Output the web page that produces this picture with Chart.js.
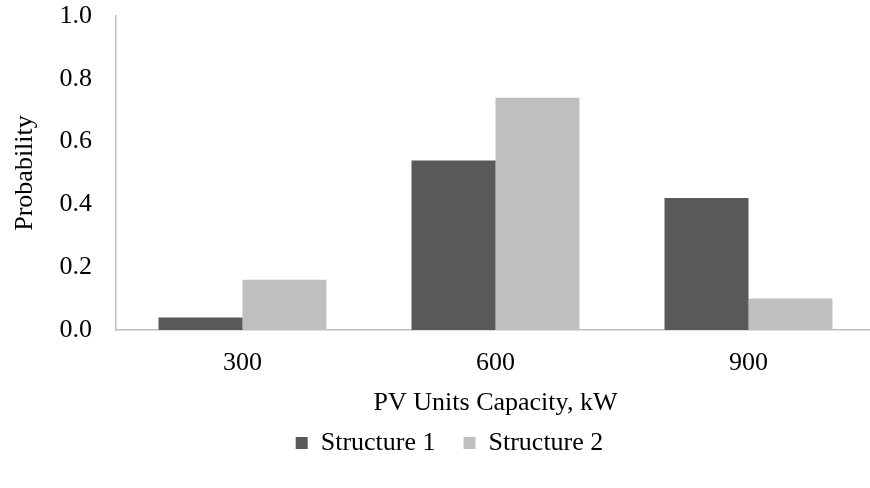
<!DOCTYPE html>
<html>
<head>
<meta charset="utf-8">
<script src="https://cdn.jsdelivr.net/npm/chart.js@4/dist/chart.umd.min.js"></script>
<style>
  html, body { margin: 0; padding: 0; background: #fff; overflow: hidden; }
  #wrap { width: 875px; height: 488px; position: relative; }
</style>
</head>
<body>
<div id="wrap"><canvas id="chart"></canvas></div>
<script>
// PV unit capacity options (kW) and the probability of choosing each
const capacities = ['300', '600', '900'];
const structure1 = [0.04, 0.54, 0.42];
const structure2 = [0.16, 0.74, 0.10];
const yTicks = [0.0, 0.2, 0.4, 0.6, 0.8, 1.0];

const serif = 'Liberation Serif, "Times New Roman", Times, serif';
const axisGray = '#BFBFBF';

new Chart(document.getElementById('chart'), {
  type: 'bar',
  data: {
    labels: capacities,
    datasets: [
      { label: 'Structure 1', data: structure1, backgroundColor: '#595959', borderWidth: 0 },
      { label: 'Structure 2', data: structure2, backgroundColor: '#BFBFBF', borderWidth: 0 }
    ]
  },
  options: {
    responsive: true,
    maintainAspectRatio: false,
    animation: false,
    datasets: { bar: { categoryPercentage: 0.664, barPercentage: 1.0 } },
    layout: { padding: { top: 16, left: 24, right: 0, bottom: 22 } },
    plugins: {
      tooltip: { enabled: false },
      legend: {
        position: 'bottom',
        labels: {
          boxWidth: 12,
          boxHeight: 12,
          padding: 28,
          color: '#000',
          font: { family: serif, size: 26 }
        }
      }
    },
    scales: {
      x: {
        grid: { display: false, drawTicks: false },
        border: { display: true, color: axisGray, width: 1.5 },
        ticks: { color: '#000', padding: 18, font: { family: serif, size: 26 } },
        title: {
          display: true,
          text: 'PV Units Capacity, kW',
          color: '#000',
          font: { family: serif, size: 26 },
          padding: { top: 0, bottom: -17 }
        },
        afterFit(scale) { scale.height = 72; }
      },
      y: {
        min: 0,
        max: 1,
        grid: { display: false, drawTicks: false },
        border: { display: true, color: axisGray, width: 1.5 },
        afterBuildTicks(scale) { scale.ticks = yTicks.map(v => ({ value: v })); },
        ticks: {
          color: '#000',
          padding: 24,
          font: { family: serif, size: 26 },
          callback: v => Number(v).toFixed(1)
        },
        title: {
          display: true,
          text: 'Probability',
          color: '#000',
          font: { family: serif, size: 26 },
          padding: { top: -14.6, bottom: 0 }
        },
        afterFit(scale) {
          scale.width = 92;
          // let the plot reach the top padding line; the top label may overhang
          scale.paddingTop = 0;
          scale.paddingBottom = 0;
        }
      }
    }
  }
});
</script>
</body>
</html>
